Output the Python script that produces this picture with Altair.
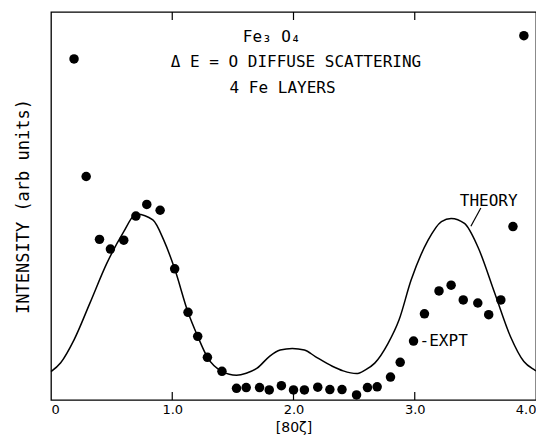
import altair as alt
import pandas as pd

# Experimental points
expt_x = [0.19, 0.29, 0.40, 0.49, 0.60, 0.70, 0.79, 0.90, 1.02, 1.13, 1.21, 1.29, 1.41,
          1.53, 1.61, 1.72, 1.80, 1.90, 2.00, 2.09, 2.20, 2.30, 2.40, 2.52, 2.61, 2.69,
          2.80, 2.88, 2.99, 3.08, 3.20, 3.30, 3.40, 3.52, 3.61, 3.71, 3.81, 3.90]
expt_y = [87.9, 57.6, 41.4, 38.9, 41.2, 47.4, 50.4, 48.9, 33.8, 22.6, 16.4, 11.0, 7.4,
          3.0, 3.2, 3.2, 2.6, 3.7, 2.6, 2.6, 3.3, 2.7, 2.7, 1.3, 3.2, 3.4,
          5.9, 9.7, 15.2, 22.2, 28.1, 29.6, 25.8, 25.0, 22.0, 25.8, 44.7, 93.9]

# Theory curve
theory_x = [0.0, 0.08, 0.19, 0.32, 0.46, 0.60, 0.69, 0.71, 0.84, 0.93, 1.02, 1.13, 1.21,
            1.29, 1.41, 1.53, 1.61, 1.70, 1.80, 1.89, 1.99, 2.09, 2.18, 2.32, 2.41, 2.52,
            2.59, 2.67, 2.78, 2.87, 2.97, 3.11, 3.22, 3.30, 3.41, 3.52, 3.66, 3.79, 3.90,
            3.99, 4.0]
theory_y = [7.3, 9.6, 15.5, 24.9, 35.2, 43.4, 47.7, 47.9, 46.4, 41.2, 33.8, 22.6, 16.4,
            11.0, 7.4, 6.4, 6.9, 8.2, 11.2, 12.9, 13.3, 12.9, 11.2, 8.7, 7.5, 6.8,
            7.7, 9.5, 14.6, 20.6, 30.9, 41.2, 46.0, 46.8, 45.5, 39.5, 27.5, 16.3, 9.9,
            7.7, 7.5]

tick_values = [0, 1, 2, 3, 4]
inner_ticks = [1, 2, 3]

center_text = ["Fe₃ O₄", "Δ E = O DIFFUSE SCATTERING", "4 Fe LAYERS", "THEORY"]
center_x = [1.82, 2.02, 1.91, 3.61]
center_y = [93.6, 87.1, 80.4, 51.4]

left_text = ["-EXPT"]
left_x = [3.04]
left_y = [15.2]

leader_x = [3.545]
leader_x2 = [3.463]
leader_y = [49.5]
leader_y2 = [44.8]

FONT = "DejaVu Sans"
MONO = "DejaVu Sans Mono"

expt = pd.DataFrame({"x": expt_x, "y": expt_y})
theory = pd.DataFrame({"x": theory_x, "y": theory_y})
notes_c = pd.DataFrame({"t": center_text, "x": center_x, "y": center_y})
notes_l = pd.DataFrame({"t": left_text, "x": left_x, "y": left_y})
ticks = pd.DataFrame({"x": inner_ticks})
leader = pd.DataFrame({"x": leader_x, "x2": leader_x2, "y": leader_y, "y2": leader_y2})

label_expr = "datum.value == 0 ? '0' : format(datum.value, '.1f')"

xscale = alt.Scale(domain=[0, 4], nice=False, zero=False)
yscale = alt.Scale(domain=[0, 100], nice=False)

xenc = alt.X("x:Q", scale=xscale,
             axis=alt.Axis(values=tick_values, labelExpr=label_expr, title="[80ζ]",
                           tickSize=0, domain=False, grid=False, labelPadding=3,
                           labelFont=FONT, labelFontSize=13, labelColor="black",
                           titleFont=FONT, titleFontSize=14, titleFontWeight="normal",
                           titleColor="black", titlePadding=4))
yenc = alt.Y("y:Q", scale=yscale,
             axis=alt.Axis(labels=False, ticks=False, domain=False, grid=False,
                           title="INTENSITY (arb units)", titleFont=MONO, titleFontSize=17,
                           titleFontWeight="normal", titleColor="black", titlePadding=19))

line = alt.Chart(theory).mark_line(color="black", strokeWidth=1.5, interpolate="monotone").encode(
    x=xenc, y=yenc)

pts = alt.Chart(expt).mark_circle(color="black", size=90, opacity=1).encode(
    x="x:Q", y="y:Q")

text_center = alt.Chart(notes_c).mark_text(
    font=MONO, fontSize=16, color="black", baseline="middle", align="center").encode(
    x="x:Q", y="y:Q", text="t:N")
text_left = alt.Chart(notes_l).mark_text(
    font=MONO, fontSize=16, color="black", baseline="middle", align="left").encode(
    x="x:Q", y="y:Q", text="t:N")

lead = alt.Chart(leader).mark_rule(color="black", strokeWidth=1.2).encode(
    x="x:Q", x2="x2:Q", y="y:Q", y2="y2:Q")

bottom_ticks = alt.Chart(ticks).mark_rule(color="black", strokeWidth=1.2).encode(
    x="x:Q", y=alt.value(388), y2=alt.value(380))
top_ticks = alt.Chart(ticks).mark_rule(color="black", strokeWidth=1.2).encode(
    x="x:Q", y=alt.value(0), y2=alt.value(8))

chart = alt.layer(line, pts, text_center, text_left, lead, bottom_ticks, top_ticks).properties(
    width=485, height=388,
    autosize=alt.AutoSizeParams(type="none"),
    padding={"left": 43, "top": 4, "right": 0, "bottom": 36},
    background="white",
).configure_view(stroke="black", strokeWidth=1.3)

chart.save("out.html", embed_options={"renderer": "svg", "actions": False})
